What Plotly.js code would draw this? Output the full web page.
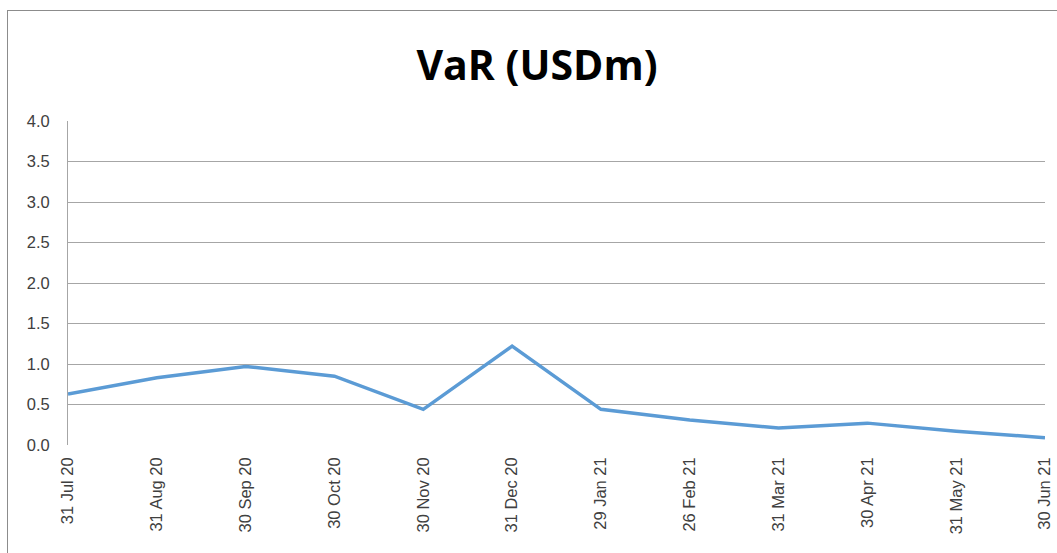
<!DOCTYPE html>
<html>
<head>
<meta charset="utf-8">
<script src="https://cdn.plot.ly/plotly-3.0.1.min.js"></script>
<style>
  html, body { margin: 0; padding: 0; background: #fff; overflow: hidden; }
  #chart { width: 1057px; height: 553px; }
  #frame { position: absolute; left: 7px; top: 10px; width: 1070px; height: 570px; border: 1px solid #8c8c8c; pointer-events: none; box-sizing: border-box; }
</style>
</head>
<body>
<div id="chart"></div>
<div id="frame"></div>
<script>
const dates = ["31 Jul 20", "31 Aug 20", "30 Sep 20", "30 Oct 20", "30 Nov 20", "31 Dec 20",
               "29 Jan 21", "26 Feb 21", "31 Mar 21", "30 Apr 21", "31 May 21", "30 Jun 21"];
const varValues = [0.63, 0.83, 0.97, 0.85, 0.44, 1.22, 0.44, 0.31, 0.21, 0.27, 0.17, 0.09];
const yTicks = [0, 0.5, 1.0, 1.5, 2.0, 2.5, 3.0, 3.5, 4.0];
const yTickLabels = ["0.0", "0.5", "1.0", "1.5", "2.0", "2.5", "3.0", "3.5", "4.0"];

const trace = {
  x: dates,
  y: varValues,
  type: "scatter",
  mode: "lines",
  line: { color: "#5B9BD5", width: 3.5 },
  hoverinfo: "x+y"
};

const layout = {
  width: 1057,
  height: 553,
  margin: { l: 68, r: 12, t: 121, b: 108 },
  paper_bgcolor: "#ffffff",
  plot_bgcolor: "#ffffff",
  showlegend: false,
  title: {
    text: "<b>VaR (USDm)</b>",
    font: { family: "Open Sans, Liberation Sans, sans-serif", size: 41, color: "#000000" },
    x: 537 / 1057, xanchor: "center", xref: "container",
    y: 1 - 66 / 553, yanchor: "middle", yref: "container"
  },
  xaxis: {
    type: "category",
    range: [0, dates.length - 1],
    tickangle: -90,
    showgrid: false,
    zeroline: false,
    showline: false,
    ticks: "",
    ticklabelstandoff: 8,
    tickfont: { family: "Liberation Sans, Arial, sans-serif", size: 16.5, color: "#404040" },
    fixedrange: true
  },
  yaxis: {
    range: [0, 4],
    tickvals: yTicks,
    ticktext: yTickLabels,
    showgrid: true,
    gridcolor: "#a6a6a6",
    gridwidth: 1,
    zeroline: false,
    showline: true,
    linecolor: "#a6a6a6",
    linewidth: 1,
    ticks: "",
    ticklabelstandoff: 14,
    tickfont: { family: "Liberation Sans, Arial, sans-serif", size: 16.5, color: "#404040" },
    fixedrange: true
  }
};

Plotly.newPlot("chart", [trace], layout, { displayModeBar: false, staticPlot: true });
</script>
</body>
</html>
